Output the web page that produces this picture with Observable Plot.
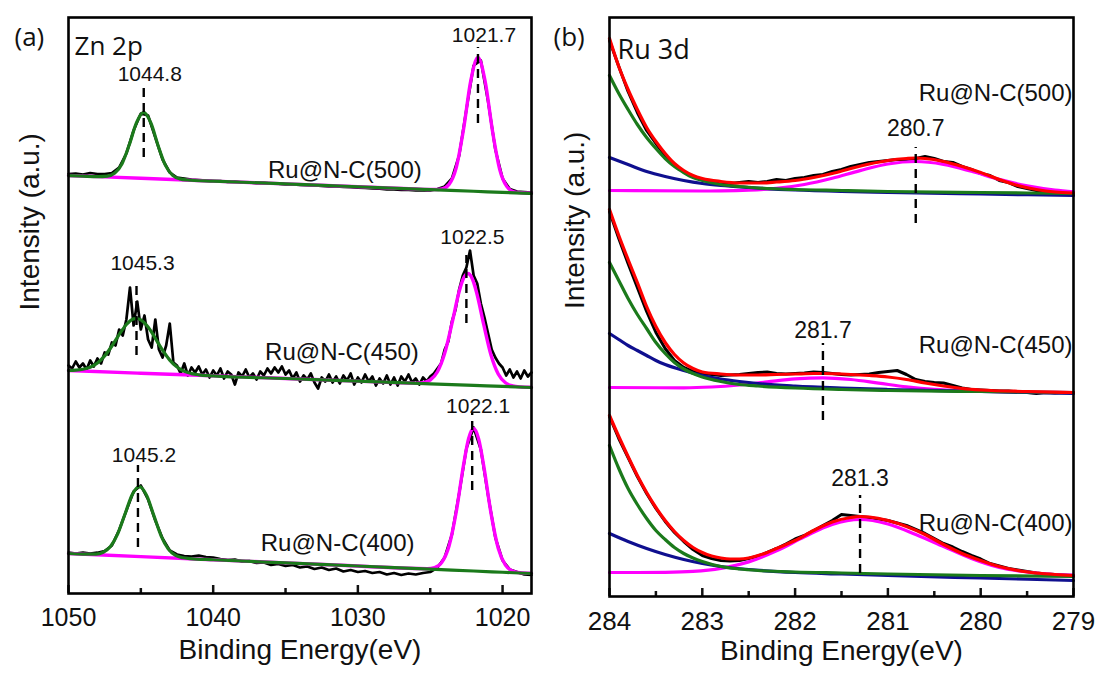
<!DOCTYPE html>
<html><head><meta charset="utf-8">
<script src="https://cdn.jsdelivr.net/npm/d3@7"></script>
<script src="https://cdn.jsdelivr.net/npm/@observablehq/plot@0.6"></script>
<style>
body{margin:0;background:#fff;}
#wrap{display:flex;width:1099px;height:677px;overflow:hidden;}
svg{display:block;}
</style></head><body><div id="wrap"></div>
<script>
// ---------------- Panel (a): Zn 2p ----------------
const znSamples = ["Ru@N-C(400)", "Ru@N-C(450)", "Ru@N-C(500)"];
const znOffsets = [20, 206, 400];               // stacking offsets (a.u.)
const znMajorTicks = [1050, 1040, 1030, 1020];
const znMinorTicks = [1045, 1035, 1025];

// measured spectra (a.u., relative to each sample's offset)
const zn400Data = [21,20,21,19.8,20.8,22.5,28,43.5,63,82,88,74,53,35,23,19,17.5,17,18,16.5,16,
  14.5,13.5,14,12,12.5,10.5,11,8.5,9.5,7.5,8.5,6,7,4.5,6,3.5,5,2,3.5,1.5,
  2.5,0.5,1.5,-1,0.5,-1.5,0,-1,0.5,1.5,
  6,16,39,80,125,146,124,78,36,13,4,1.5,-1,-1.5];           // 1050 -> 1018, step 0.5
const zn450Data = [22,19,26,20, 24,18,27,21, 29,24,35,33, 45,42,58,52, 68,100,62,86, 58,72,48,40,
  68,38,30,42, 64,25,22,14, 24,12,20,15, 21,13,18,10, 17,12,19,9, 16,13,3,15, 11,18,10,14,
  8,16,12,19, 14,20,15,21, 13,17,9,15, 6,12,8,14, 5,-1,10,6, 13,5,11,4, 12,7,14,3, 10,5,13,6,
  11,2,9,4, 12,3,10,2, 11,6,13,5, 9,3,10,6, 11,14,19,24, 38,46,66,78, 98,112,120,137,
  112,104,84,70, 54,38,30,24, 20,12,18,10, 16,9,17,11, 15];  // 1050 -> 1018, step 0.25
const zn500Data = [19.5,20,19,20.5,19.5,19.5,20.5,26,40,63,80,78,56,34,21,16,15,14,13.5,13,12.5,
  12.5,11.5,11.8,11,11.2,10.4,10.6,9.8,9.9,9.2,9,8.6,8.4,8,7.6,7.2,7,6.5,6.4,5.8,
  5.6,5,4.8,4.2,4,3.5,3.6,3.2,3.4,3,
  4.5,7,15,38,84,128,133,92,44,15,4.5,2,1.5,1];             // 1050 -> 1018, step 0.5

// fitted components [energy, intensity]
const zn400Green = [[1050,20.0],[1049,19.4],[1048.5,19.3],[1048.1,19.4],[1047.6,21.2],[1047.1,26.9],[1046.6,39.6],[1046.1,59.2],[1045.6,78.8],[1045.1,86.9],[1044.6,78.1],[1044.1,57.9],[1043.6,37.7],[1043.1,24.4],[1042.6,18.1],[1042.1,15.7],[1041.6,14.9],[1040,13.75],[1035,10.6],[1030,7.5],[1025,4.4],[1022,2.5],[1020,1.25],[1018,0]];
const zn400Magenta = [[1050,20],[1045,16.9],[1040,13.75],[1035,10.6],[1030,7.5],[1026,5.0],[1025.2,4.8],[1024.7,5.8],[1024.2,11.1],[1023.7,27.5],[1023.2,61.8],[1022.7,108.2],[1022.35,134.8],[1022,145],[1021.65,134.4],[1021.3,107.4],[1020.8,60.4],[1020.3,25.3],[1019.8,8.3],[1019.3,2.4],[1018.8,0.8],[1018,0.3]];
const zn450Green = [[1050,17.0],[1049.5,17.3],[1049,18.2],[1048.5,20.2],[1048,24.4],[1047.5,31.6],[1047,41.5],[1046.5,52.9],[1046,63.0],[1045.5,68.6],[1045.3,69.0],[1045,67.6],[1044.5,60.4],[1044,49.2],[1043.5,37.3],[1043,27.4],[1042.5,20.4],[1042,16.1],[1041.5,13.9],[1041,12.7],[1040,11.7],[1035,9.0],[1030,6.4],[1025,3.7],[1022,2.1],[1020,1.1],[1018,0]];
const zn450Magenta = [[1050,17],[1045,14.3],[1040,11.7],[1035,9.0],[1030,6.4],[1026.5,4.5],[1026,4.4],[1025.5,4.9],[1025,7.5],[1024.5,15.8],[1024,34.2],[1023.5,63.9],[1023,96.0],[1022.7,109.3],[1022.4,114.0],[1022.1,109.0],[1021.8,95.3],[1021.3,62.8],[1020.8,32.5],[1020.3,13.5],[1019.8,4.75],[1019.3,1.6],[1018.8,0.6],[1018,0.2]];
const zn500Green = [[1050,18.0],[1049,17.4],[1048,16.9],[1047.3,17.4],[1046.8,20.4],[1046.3,29.8],[1045.8,48.7],[1045.3,70.9],[1044.8,81.1],[1044.3,70.3],[1043.8,47.6],[1043.3,28.1],[1042.8,18.2],[1042.3,14.6],[1041.8,13.5],[1040,12.4],[1035,9.6],[1030,6.75],[1025,3.9],[1022,2.25],[1020,1.1],[1018,0]];
const zn500Magenta = [[1050,18],[1045,15.2],[1040,12.4],[1035,9.6],[1030,6.75],[1026,4.5],[1025.2,4.05],[1024.7,3.95],[1024.2,4.5],[1023.7,9.1],[1023.2,26.0],[1022.7,64.0],[1022.2,112.6],[1021.7,136.1],[1021.2,112.0],[1020.7,62.9],[1020.2,24.3],[1019.7,6.9],[1019.2,1.7],[1018.7,0.8],[1018,0.5]];

// peak annotations (stacked a.u.)
const znPeakE = [1044.8, 1021.7, 1045.3, 1022.5, 1045.2, 1022.1];
const znPeakText = ["1044.8", "1021.7", "1045.3", "1022.5", "1045.2", "1022.1"];
const znPeakLabelY = [519, 558, 330, 356, 138, 187];
const znDashLow = [436, 470, 238, 270, 46, 103];
const znDashHigh = [508, 546, 311, 338, 128, 180];
const znNameE = [1031.4, 1031.1, 1030.9];
const znNameY = [50, 241, 423];

// ---------------- Panel (b): Ru 3d ----------------
const ruSamples = ["Ru@N-C(400)", "Ru@N-C(450)", "Ru@N-C(500)"];
const ruTicksMajor = [284, 283, 282, 281, 280, 279];
const ruTicksMinor = [283.5, 282.5, 281.5, 280.5, 279.5];

// measured spectra (stacked a.u.), 284 -> 279, step 0.1
const ru400Data = [180,158,139,120,103,88,75,64,55,47, 41,38,36,35.5,36,38,40.5,44,48,52.5,
  57.5,61,66,71,76,82,81,80,79,77.5, 76,73.5,71,67,63,58,53,49.5,45,41,
  37.5,33,30.5,28,26.5,25,23.5,22.5,22,21.5, 21];
const ru450Data = [385,358,333,309,285,264,248,236,229,225, 223,222,221,221.5,222,223,224,224.5,223,222.5,
  223,223.5,224.5,224,223,222,221.5,222,222.5,224, 225,226,222,217,215,214,213.5,211,208.5,207,
  206.5,206,205.5,205.5,204.5,204,203,204,203.5,204, 203.5];
const ru500Data = [556,530,505,484,466,453,441,432,425,420, 417,415,414,413,414,415,414,415,417,416,
  418,419,421,422,425,427,430,432,434,435, 436,437,437,438,440,438,435,434,430,427,
  423,421,416,414,410,408,406,405,404,404, 403];

const ru400Red = [[284,181],[283.9,160],[283.8,140],[283.7,121],[283.6,104],[283.5,89],[283.4,76],[283.3,65],[283.2,56],[283.1,49],[283.0,44],[282.9,40.5],[282.8,38.5],[282.7,37.5],[282.6,37.5],[282.5,38.5],[282.4,41],[282.3,44],[282.2,48],[282.0,56],[281.8,66],[281.6,74.5],[281.4,79],[281.3,80],[281.2,79.5],[281.0,76],[280.8,70],[280.6,62],[280.4,52],[280.2,43],[280.0,36],[279.8,30],[279.6,26],[279.4,23.5],[279.2,22],[279.0,21]];
const ru400Green = [[284,151],[283.9,128],[283.8,108],[283.7,92],[283.6,78],[283.5,66],[283.4,57],[283.3,49],[283.2,43],[283.1,38.5],[283.0,35],[282.8,30],[282.6,27.5],[282.4,26],[282.0,24.5],[281.5,23.5],[281,22.5],[280,21],[279,20]];
const ru400Blue = [[284,63],[283.8,55],[283.6,48],[283.4,42],[283.2,37],[283.0,33],[282.8,30],[282.5,27],[282,24],[281.5,22.5],[281,21],[280,18.5],[279,16]];
const ru400Magenta = [[284,24],[283.7,24],[283.4,24.2],[283.1,25.1],[282.8,28.1],[282.5,34.6],[282.2,45.6],[281.9,59.7],[281.6,72.1],[281.3,77],[281.0,72.5],[280.7,62],[280.4,50],[280.1,38],[279.8,29],[279.5,24.5],[279.2,22],[279.0,21.3]];

const ru450Red = [[284,387],[283.9,361],[283.8,337],[283.7,314],[283.6,290],[283.5,270],[283.4,254],[283.3,242],[283.2,233.5],[283.1,228],[283.0,224.5],[282.8,222.5],[282.6,221.5],[282.4,221.5],[282.2,222],[282.0,222.5],[281.8,223],[281.7,223],[281.5,222.5],[281.2,221],[281.0,219.5],[280.8,217],[280.6,213.5],[280.4,210.5],[280.2,208],[280.0,206.5],[279.5,205],[279.0,204]];
const ru450Green = [[284,334],[283.9,316],[283.8,298],[283.7,282],[283.6,268],[283.5,254],[283.4,243],[283.3,234],[283.2,227.5],[283.1,223],[283.0,219.5],[282.8,215],[282.6,212],[282.4,210.5],[282.0,208.5],[281.5,207],[281,206],[280,205],[279,204]];
const ru450Blue = [[284,263],[283.9,257],[283.8,251],[283.7,246],[283.6,241],[283.5,236],[283.4,232],[283.2,226],[283.0,221],[282.8,217.5],[282.6,215],[282.4,213],[282.0,210.5],[281.5,208.5],[281,207],[280,205],[279,203]];
const ru450Magenta = [[284,209],[283.2,208.7],[282.9,209.5],[282.6,211.5],[282.3,214.6],[282.0,217.6],[281.7,218.7],[281.4,217],[281.1,213.4],[280.8,209.7],[280.5,207.1],[280.2,205.7],[279.9,205],[279.0,204]];

const ru500Red = [[284,558],[283.9,530],[283.8,507],[283.7,487],[283.6,469],[283.5,455],[283.4,443],[283.3,433],[283.2,426],[283.1,421],[283.0,418],[282.8,415],[282.6,413.5],[282.4,413.5],[282.2,414.5],[282.0,416],[281.8,419],[281.6,423],[281.4,428],[281.2,432.5],[281.0,436],[280.8,438],[280.7,438.5],[280.6,438],[280.4,435],[280.2,430],[280.0,424],[279.8,417],[279.6,411],[279.4,407],[279.2,404.5],[279.0,403.5]];
const ru500Green = [[284,521],[283.9,503],[283.8,487],[283.7,472],[283.6,459],[283.5,448],[283.4,438],[283.3,430],[283.2,424],[283.1,419],[283.0,416],[282.8,412],[282.6,410],[282.4,408.5],[282.0,407],[281.5,406],[281,405],[280,404],[279,403]];
const ru500Blue = [[284,439],[283.8,432],[283.6,425],[283.4,420],[283.2,416],[283.0,413],[282.8,411],[282.5,409],[282.0,406.5],[281.5,405],[281,404],[280,402.5],[279,401]];
const ru500Magenta = [[284,406],[283,405.5],[282.8,405.6],[282.5,406.3],[282.2,408.1],[281.9,412],[281.6,418.2],[281.3,425.9],[281.0,432.5],[280.7,435],[280.4,432.1],[280.1,425.2],[279.8,417.1],[279.5,410.6],[279.2,406.4],[279,404.7]];

const ruPeakE = [280.7, 281.7, 281.3];
const ruPeakText = ["280.7", "281.7", "281.3"];
const ruPeakLabelY = [468, 266, 118];
const ruDashLow = [373, 176, 23];
const ruDashHigh = [449, 253, 101];
const ruNameY = [73, 251, 503];

// ---------------- helpers ----------------
const FONT = "'Liberation Sans', Arial, sans-serif";
const SANS2 = "'Open Sans', 'DejaVu Sans', sans-serif";
const C = {black: "#000000", green: "#1b7a1b", magenta: "#ff00ff", red: "#ff0000", blue: "#0f0f8f"};
const INK = "#111";

const pairs = (arr, off, key) => arr.map(([E, I]) => ({E, I: I + off, key}));
const sampled = (vals, start, step, off, key) => vals.map((I, i) => ({E: +(start - i * step).toFixed(3), I: I + off, key}));

// panel (a) tables
const znData = [
  ...sampled(zn400Data, 1050, 0.5, znOffsets[0], "400"),
  ...sampled(zn450Data, 1050, 0.25, znOffsets[1], "450"),
  ...sampled(zn500Data, 1050, 0.5, znOffsets[2], "500")];
const znGreen = [...pairs(zn400Green, znOffsets[0], "400"), ...pairs(zn450Green, znOffsets[1], "450"), ...pairs(zn500Green, znOffsets[2], "500")];
const znMag = [...pairs(zn400Magenta, znOffsets[0], "400"), ...pairs(zn450Magenta, znOffsets[1], "450"), ...pairs(zn500Magenta, znOffsets[2], "500")];
const znPeaks = znPeakE.map((E, i) => ({E, t: znPeakText[i], y: znPeakLabelY[i], y1: znDashLow[i], y2: znDashHigh[i]}));
const znNames = znSamples.map((t, i) => ({t, E: znNameE[i], y: znNameY[i]}));

// panel (b) tables
const ruData = [
  ...sampled(ru400Data, 284, 0.1, 0, "400"),
  ...sampled(ru450Data, 284, 0.1, 0, "450"),
  ...sampled(ru500Data, 284, 0.1, 0, "500")];
const ruRed = [...pairs(ru400Red, 0, "400"), ...pairs(ru450Red, 0, "450"), ...pairs(ru500Red, 0, "500")];
const ruGreen = [...pairs(ru400Green, 0, "400"), ...pairs(ru450Green, 0, "450"), ...pairs(ru500Green, 0, "500")];
const ruBlue = [...pairs(ru400Blue, 0, "400"), ...pairs(ru450Blue, 0, "450"), ...pairs(ru500Blue, 0, "500")];
const ruMag = [...pairs(ru400Magenta, 0, "400"), ...pairs(ru450Magenta, 0, "450"), ...pairs(ru500Magenta, 0, "500")];
const ruPeaks = ruPeakE.map((E, i) => ({E, t: ruPeakText[i], y: ruPeakLabelY[i], y1: ruDashLow[i], y2: ruDashHigh[i]}));
const ruNames = ruSamples.map((t, i) => ({t, E: 279, y: ruNameY[i]}));

const line = (data, color, w, curve = "monotone-x") =>
  Plot.line(data, {x: "E", y: "I", z: "key", stroke: color, strokeWidth: w, curve, strokeLinejoin: "round"});

const panelA = Plot.plot({
  width: 549, height: 677,
  marginLeft: 68, marginRight: 18, marginTop: 17, marginBottom: 84,
  style: {fontFamily: FONT, fontSize: "25px", color: INK, background: "#fff"},
  x: {domain: [1050, 1018], label: null},
  y: {domain: [0, 576], axis: null, label: null},
  marks: [
    line(znData, C.black, 2.7, "linear"),
    line(znMag, C.magenta, 3.4),
    line(znGreen, C.green, 3.2),
    Plot.ruleX(znPeaks, {x: "E", y1: "y1", y2: "y2", stroke: "#000", strokeWidth: 2.4, strokeDasharray: "9,6"}),
    Plot.text(znPeaks, {x: "E", y: "y", text: "t", dx: 6, fontSize: 21, fill: INK}),
    Plot.text(znNames, {x: "E", y: "y", text: "t", fontSize: 24, fill: INK}),
    Plot.axisX(znMajorTicks, {anchor: "bottom", tickSize: -8, tickPadding: 23, strokeWidth: 2.5, tickFormat: d => String(d), fontSize: 25, fill: INK, label: null}),
    Plot.axisX(znMinorTicks, {anchor: "bottom", tickSize: -5, strokeWidth: 2.5, tickFormat: () => "", label: null}),
    Plot.text(["Binding Energy(eV)"], {frameAnchor: "bottom", dy: 65, text: d => d, fontSize: 28, fill: INK}),
    Plot.text(["Intensity (a.u.)"], {frameAnchor: "left", dx: -38, dy: 5, rotate: -90, text: d => d, fontSize: 28, fill: INK}),
    Plot.text(["(a)"], {frameAnchor: "top-left", dx: -54, dy: 10, textAnchor: "start", text: d => d, fontSize: 26, fontFamily: SANS2, fill: INK}),
    Plot.text(["Zn 2p"], {frameAnchor: "top-left", dx: 6, dy: 19, textAnchor: "start", text: d => d, fontSize: 26, fontFamily: SANS2, fill: INK}),
    Plot.frame({stroke: "#000", strokeWidth: 2.6})
  ]
});

const panelB = Plot.plot({
  width: 550, height: 677,
  marginLeft: 60, marginRight: 26, marginTop: 17, marginBottom: 81,
  style: {fontFamily: FONT, fontSize: "26px", color: INK, background: "#fff"},
  x: {domain: [284, 279], label: null},
  y: {domain: [0, 579], axis: null, label: null},
  marks: [
    line(ruData, C.black, 3, "linear"),
    line(ruMag, C.magenta, 3.2),
    line(ruBlue, C.blue, 3.2),
    line(ruGreen, C.green, 3.2),
    line(ruRed, C.red, 3.2),
    Plot.ruleX(ruPeaks, {x: "E", y1: "y1", y2: "y2", stroke: "#000", strokeWidth: 2.4, strokeDasharray: "9,6"}),
    Plot.text(ruPeaks, {x: "E", y: "y", text: "t", fontSize: 23, fill: INK}),
    Plot.text(ruNames, {x: "E", y: "y", text: "t", textAnchor: "end", dx: -1, fontSize: 24, fill: INK}),
    Plot.axisX(ruTicksMajor, {anchor: "bottom", tickSize: -8, tickPadding: 23, strokeWidth: 2.5, tickFormat: d => String(d), fontSize: 26, fill: INK, label: null}),
    Plot.axisX(ruTicksMinor, {anchor: "bottom", tickSize: -5, strokeWidth: 2.5, tickFormat: () => "", label: null}),
    Plot.text(["Binding Energy(eV)"], {frameAnchor: "bottom", dy: 63, text: d => d, fontSize: 28, fill: INK}),
    Plot.text(["Intensity (a.u.)"], {frameAnchor: "left", dx: -34, dy: 2, rotate: -90, text: d => d, fontSize: 28, fill: INK}),
    Plot.text(["(b)"], {frameAnchor: "top-left", dx: -56, dy: 10, textAnchor: "start", text: d => d, fontSize: 26, fontFamily: SANS2, fill: INK}),
    Plot.text(["Ru 3d"], {frameAnchor: "top-left", dx: 8, dy: 22, textAnchor: "start", text: d => d, fontSize: 27, fontFamily: SANS2, fill: INK}),
    Plot.frame({stroke: "#000", strokeWidth: 2.6})
  ]
});

const wrap = document.getElementById("wrap");
wrap.appendChild(panelA);
wrap.appendChild(panelB);
</script></body></html>
